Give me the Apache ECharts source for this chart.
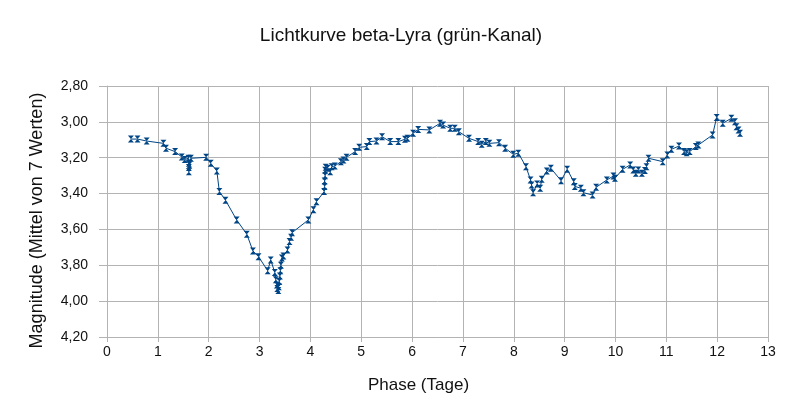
<!DOCTYPE html>
<html>
<head>
<meta charset="utf-8">
<script src="https://cdn.jsdelivr.net/npm/echarts@6/dist/echarts.min.js"></script>
<style>
html,body{margin:0;padding:0;background:#fff;}
#c{width:802px;height:418px;}
</style>
</head>
<body>
<div id="c"></div>
<script>
var titleText = 'Lichtkurve beta-Lyra (grün-Kanal)';
var xName = 'Phase (Tage)';
var yName = 'Magnitude (Mittel von 7 Werten)';
var xTicks = [0,1,2,3,4,5,6,7,8,9,10,11,12,13];
var yTicks = [2.8,3.0,3.2,3.4,3.6,3.8,4.0,4.2];

var phase = [0.47,0.60,0.78,1.11,1.16,1.34,1.47,1.53,1.60,1.61,1.61,1.61,1.62,1.65,1.95,2.04,2.16,2.21,2.33,2.55,2.75,2.87,2.98,3.16,3.22,3.30,3.32,3.34,3.35,3.37,3.38,3.39,3.40,3.41,3.42,3.44,3.47,3.55,3.59,3.62,3.64,3.96,4.06,4.12,4.27,4.28,4.28,4.29,4.29,4.30,4.34,4.39,4.42,4.48,4.60,4.65,4.71,4.88,4.96,5.11,5.16,5.30,5.41,5.57,5.73,5.86,5.91,6.02,6.12,6.34,6.55,6.61,6.75,6.84,6.92,7.12,7.30,7.37,7.45,7.52,7.71,7.83,7.99,8.09,8.24,8.33,8.35,8.38,8.46,8.52,8.55,8.65,8.73,8.93,9.05,9.18,9.20,9.32,9.37,9.55,9.62,9.83,9.96,9.99,10.14,10.29,10.35,10.40,10.45,10.52,10.58,10.61,10.65,10.93,11.02,11.10,11.25,11.35,11.40,11.46,11.58,11.63,11.91,11.99,12.11,12.28,12.35,12.38,12.42,12.45];
var magnitude = [3.096,3.096,3.107,3.120,3.147,3.166,3.196,3.210,3.203,3.231,3.255,3.278,3.240,3.203,3.198,3.231,3.274,3.389,3.437,3.547,3.627,3.720,3.752,3.830,3.770,3.840,3.880,3.910,3.930,3.940,3.920,3.890,3.860,3.830,3.800,3.760,3.748,3.715,3.668,3.644,3.618,3.547,3.490,3.445,3.389,3.360,3.330,3.300,3.270,3.253,3.259,3.278,3.250,3.246,3.222,3.213,3.198,3.166,3.142,3.138,3.110,3.107,3.083,3.110,3.110,3.097,3.092,3.064,3.042,3.045,3.008,3.018,3.036,3.036,3.055,3.092,3.110,3.125,3.110,3.120,3.116,3.147,3.181,3.175,3.250,3.324,3.352,3.395,3.347,3.370,3.320,3.274,3.259,3.328,3.265,3.334,3.360,3.370,3.395,3.408,3.365,3.324,3.302,3.315,3.265,3.240,3.268,3.287,3.268,3.287,3.272,3.250,3.203,3.222,3.185,3.153,3.135,3.166,3.172,3.166,3.138,3.129,3.073,2.975,3.008,2.980,2.999,3.027,3.045,3.064];

var pts = phase.map(function(p,i){return [p, magnitude[i]];});
var font = '"Liberation Sans", Arial, sans-serif';
var chart = echarts.init(document.getElementById('c'), null, {renderer:'canvas'});
chart.setOption({
  animation:false,
  backgroundColor:'#fff',
  title:{text:titleText,left:'center',top:21,textStyle:{fontFamily:font,fontSize:19,fontWeight:'normal',color:'#111'}},
  grid:{left:107,right:34,top:86,bottom:81,containLabel:false},
  xAxis:{type:'value',min:xTicks[0],max:xTicks[xTicks.length-1],interval:1,
    name:xName,nameLocation:'middle',nameGap:40,
    nameTextStyle:{fontFamily:font,fontSize:17,color:'#111',padding:[0,38,0,0]},
    axisLine:{show:true,lineStyle:{color:'#b3b3b3',width:1}},
    axisTick:{show:true,length:5,lineStyle:{color:'#b3b3b3'}},
    axisLabel:{fontFamily:font,fontSize:14,color:'#111',margin:8},
    splitLine:{show:true,lineStyle:{color:'#b3b3b3',width:1}}},
  yAxis:{type:'value',inverse:true,min:yTicks[0],max:yTicks[yTicks.length-1],interval:0.2,
    name:yName,nameLocation:'middle',nameGap:61,
    nameTextStyle:{fontFamily:font,fontSize:18,color:'#111',padding:[0,18,0,0]},
    axisLine:{show:true,lineStyle:{color:'#b3b3b3',width:1}},
    axisTick:{show:true,length:8,lineStyle:{color:'#b3b3b3'}},
    axisLabel:{fontFamily:font,fontSize:14,color:'#111',margin:19,
      formatter:function(v){return v.toFixed(2).replace('.',',');}},
    splitLine:{show:true,lineStyle:{color:'#b3b3b3',width:1}}},
  series:[{type:'line',data:pts,
    symbol:'path://M0,0 L10,0 L0,12 L10,12 Z',symbolSize:[6,7],
    itemStyle:{color:'#004586'},
    lineStyle:{color:'#004586',width:1}}]
});
</script>
</body>
</html>
